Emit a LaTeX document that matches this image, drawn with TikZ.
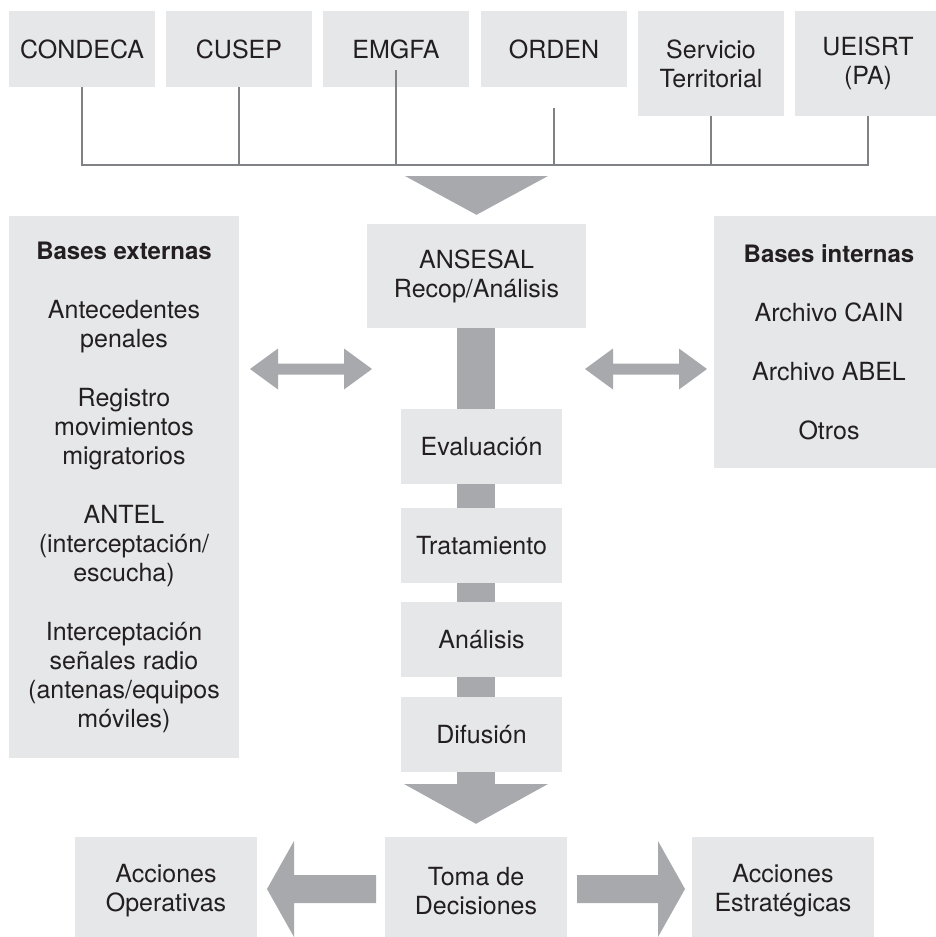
\documentclass[tikz,border=0pt]{standalone}
\usepackage{fontspec}
\setmainfont{TeX Gyre Heros}
\definecolor{boxgray}{HTML}{E6E7E8}
\definecolor{arrgray}{HTML}{A7A9AC}
\definecolor{linegray}{HTML}{808285}
\definecolor{txt}{HTML}{231F20}
\begin{document}
\begin{tikzpicture}[x=1pt,y=-1pt,
  box/.style={fill=boxgray, text=txt, align=center, inner sep=0pt,
    font=\fontsize{25}{29}\selectfont},
  ttl/.style={},
  topbox/.style={box, minimum width=146pt, minimum height=76pt},
  tallbox/.style={box, minimum width=146pt, minimum height=105pt},
  stepbox/.style={box, minimum width=161pt, minimum height=75pt},
  endbox/.style={box, minimum width=182pt, minimum height=108pt},
  conn/.style={draw=linegray, line width=2.6pt},
  arr/.style={fill=arrgray}]
\useasboundingbox (0,0) rectangle (935,937);

% top sources
\node[topbox] (condeca) at (82,49) {CONDECA};
\node[topbox] (cusep) at (239,49) {CUSEP};
\node[topbox] (emgfa) at (396,49) {EMGFA};
\node[topbox] (orden) at (554,49) {ORDEN};
\node[tallbox] (serv) at (711,63.5) {Servicio\\Territorial};
\node[tallbox] (ueisrt) at (868,63.5) {UEISRT\\(PA)};

\coordinate (bus) at (0,165);
\draw[conn] (condeca.south) -- (condeca.south |- bus) -- (ueisrt.south |- bus) -- (ueisrt.south);
\draw[conn] (cusep.south) -- (cusep.south |- bus);
\draw[conn] ([yshift=17pt]emgfa.south) -- (emgfa.south |- bus);
\draw[conn] ([yshift=-21pt]orden.south) -- (orden.south |- bus);
\draw[conn] (serv.south) -- (serv.south |- bus);

% central column
\node[box, minimum width=219pt, minimum height=104pt] (ansesal) at (476.5,276) {ANSESAL\\Recop/Análisis};
\node[stepbox] (eval) at (481.5,446.5) {Evaluación};
\node[stepbox] (trat) at (481.5,545.5) {Tratamiento};
\node[stepbox] (anal) at (481.5,639.5) {Análisis};
\node[stepbox] (dif) at (481.5,734.5) {Difusión};
\node[endbox] (toma) at (476,891) {Toma de\\Decisiones};

\coordinate (col) at (476,0);
% triangle from bus into ANSESAL
\fill[arr] (405,176) -- (548,176) -- ([yshift=9pt]ansesal.north) -- cycle;
% bars between steps
\fill[arr] ([xshift=-19pt]col |- ansesal.south) rectangle ([xshift=19pt]col |- eval.north);
\fill[arr] ([xshift=-19pt]col |- eval.south) rectangle ([xshift=19pt]col |- trat.north);
\fill[arr] ([xshift=-19pt]col |- trat.south) rectangle ([xshift=19pt]col |- anal.north);
\fill[arr] ([xshift=-19pt]col |- anal.south) rectangle ([xshift=19pt]col |- dif.north);
% big arrow to Toma de Decisiones
\fill[arr] ([xshift=-19pt]col |- dif.south) rectangle ([xshift=19pt]col |- 0,784);
\fill[arr] (404,784) -- (548,784) -- ([yshift=13pt]col |- toma.north) -- cycle;

% side bases
\node[box, minimum width=230pt, minimum height=542pt] (ext) at (124,487)
  {{\fontsize{24}{29}\selectfont\bfseries Bases externas}\\[30pt]
   Antecedentes\\penales\\[30pt]
   Registro\\movimientos\\migratorios\\[30pt]
   ANTEL\\(interceptación/\\escucha)\\[30pt]
   Interceptación\\señales radio\\(antenas/equipos\\móviles)};
\node[box, minimum width=230pt, minimum height=252pt] (int) at (829,342)
  {{\fontsize{24}{29}\selectfont\bfseries Bases internas}\\[30pt]
   Archivo CAIN\\[30pt]
   Archivo ABEL\\[30pt]
   Otros};

% double arrows
\fill[arr] (250,369) -- (278,348.5) -- (278,363.5) -- (344,363.5) -- (344,348.5)
  -- (372,369) -- (344,389.5) -- (344,374.5) -- (278,374.5) -- (278,389.5) -- cycle;
\fill[arr] (585,369) -- (613,348.5) -- (613,363.5) -- (679,363.5) -- (679,348.5)
  -- (707,369) -- (679,389.5) -- (679,374.5) -- (613,374.5) -- (613,389.5) -- cycle;

% outcomes
\node[endbox] (oper) at (166,891) {Acciones\\Operativas};
\node[endbox] (estr) at (783,891) {Acciones\\Estratégicas};
\fill[arr] (376,875) -- (294,875) -- (294,841) -- (267,889) -- (294,937) -- (294,903) -- (376,903) -- cycle;
\fill[arr] (577,875) -- (658,875) -- (658,841) -- (685,889) -- (658,937) -- (658,903) -- (577,903) -- cycle;
\end{tikzpicture}
\end{document}
